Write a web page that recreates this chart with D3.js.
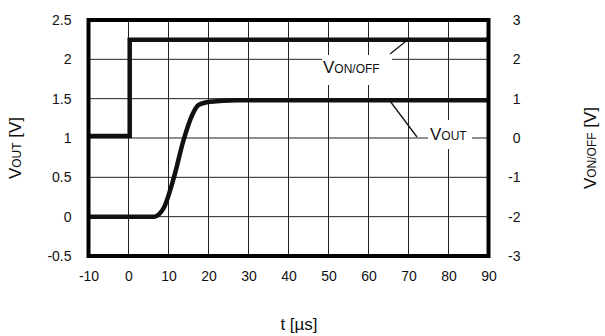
<!DOCTYPE html>
<html><head><meta charset="utf-8">
<script src="https://cdn.jsdelivr.net/npm/d3@7"></script>
<style>body{margin:0;background:#fff;}svg{display:block;font-family:"Liberation Sans",Arial,sans-serif;}</style>
</head><body>
<svg id="c" width="605" height="336"></svg>
<script>
const xTicks = [-10, 0, 10, 20, 30, 40, 50, 60, 70, 80, 90];
const yLeftTicks = [-0.5, 0, 0.5, 1, 1.5, 2, 2.5];
const yRightTicks = [-3, -2, -1, 0, 1, 2, 3];
const tOut = [-10, 6.5, 7.6, 8.8, 11.3, 13.8, 15.9, 17.5, 20.4, 27, 40, 60, 90];
const vOut = [0, 0, 0.03, 0.11, 0.49, 0.98, 1.29, 1.42, 1.46, 1.48, 1.48, 1.48, 1.48];
const tOnOff = [-10, 0.3, 0.3, 90];
const vOnOff = [0.05, 0.05, 2.5, 2.5];

const svg = d3.select('#c');
const x = d3.scaleLinear().domain([-10, 90]).range([88.5, 488.5]);
const yL = d3.scaleLinear().domain([-0.5, 2.5]).range([256, 20]);
const yR = d3.scaleLinear().domain([-3, 3]).range([256, 20]);
const fmt = d => String(d);

// grid
const g = svg.append('g');
g.selectAll('.vx').data(xTicks).join('line')
  .attr('x1', d => x(d)).attr('x2', d => x(d)).attr('y1', 20).attr('y2', 256)
  .attr('stroke', '#222').attr('stroke-width', 1);
g.selectAll('.hy').data(yLeftTicks).join('line')
  .attr('y1', d => yL(d)).attr('y2', d => yL(d)).attr('x1', 88.5).attr('x2', 488.5)
  .attr('stroke', '#222').attr('stroke-width', 1);

// axes (labels only)
const axL = d3.axisLeft(yL).tickValues(yLeftTicks).tickSize(0).tickPadding(17).tickFormat(fmt);
const axR = d3.axisRight(yR).tickValues(yRightTicks).tickSize(0).tickPadding(20).tickFormat(fmt);
const axB = d3.axisBottom(x).tickValues(xTicks).tickSize(0).tickPadding(15).tickFormat(fmt);
const gl = svg.append('g').attr('transform', `translate(${x(-10)},0)`).call(axL);
const gr = svg.append('g').attr('transform', `translate(${x(90)},0)`).call(axR);
const gb = svg.append('g').attr('transform', `translate(0,${yL(-0.5)})`).call(axB);
[gl, gr, gb].forEach(a => {
  a.select('.domain').remove();
  a.selectAll('text').attr('font-size', 14).attr('fill', '#111')
   .attr('font-family', '"Liberation Sans",Arial,sans-serif');
});
gr.selectAll('text').attr('text-anchor', 'end').attr('dx', '12');

// annotation label boxes (white, hide grid)
svg.append('rect').attr('x', 322).attr('y', 55).attr('width', 70).attr('height', 30).attr('fill', '#fff');
svg.append('rect').attr('x', 428).attr('y', 120).attr('width', 44).attr('height', 29).attr('fill', '#fff');

// data lines
const lineOut = d3.line().x(d => x(d[0])).y(d => yL(d[1])).curve(d3.curveMonotoneX);
const lineOn = d3.line().x(d => x(d[0])).y(d => yR(d[1]));
svg.append('path').datum(tOut.map((t, i) => [t, vOut[i]])).attr('d', lineOut)
  .attr('fill', 'none').attr('stroke', '#111').attr('stroke-width', 4.5).attr('stroke-linejoin', 'round');
svg.append('path').datum(tOnOff.map((t, i) => [t, vOnOff[i]])).attr('d', lineOn)
  .attr('fill', 'none').attr('stroke', '#111').attr('stroke-width', 4.5);

// frame
svg.append('rect').attr('x', 88.5).attr('y', 20).attr('width', 400).attr('height', 236)
  .attr('fill', 'none').attr('stroke', '#000').attr('stroke-width', 4);

// leader lines
svg.append('line').attr('x1', 390).attr('y1', 54).attr('x2', 410).attr('y2', 38).attr('stroke', '#111').attr('stroke-width', 1.3);
svg.append('line').attr('x1', 390).attr('y1', 101).attr('x2', 417).attr('y2', 137).attr('stroke', '#111').attr('stroke-width', 1.3);

function vlabel(sel, main, sub, rest, big, small) {
  sel.append('tspan').attr('font-size', big).text(main);
  sel.append('tspan').attr('font-size', small).text(sub);
  if (rest) sel.append('tspan').attr('font-size', big).text(rest);
  return sel;
}
vlabel(svg.append('text').attr('x', 323).attr('y', 73).attr('fill', '#111'), 'V', 'ON/OFF', null, 17, 12);
vlabel(svg.append('text').attr('x', 430).attr('y', 140).attr('fill', '#111'), 'V', 'OUT', null, 17, 12);

// axis titles
vlabel(svg.append('text').attr('transform', 'translate(21,148) rotate(-90)').attr('text-anchor', 'middle').attr('fill', '#111'), 'V', 'OUT', ' [V]', 17, 12);
vlabel(svg.append('text').attr('transform', 'translate(596,148) rotate(-90)').attr('text-anchor', 'middle').attr('fill', '#111'), 'V', 'ON/OFF', ' [V]', 17, 12);
svg.append('text').attr('x', 299).attr('y', 330).attr('text-anchor', 'middle').attr('font-size', 17).attr('fill', '#111').text('t [µs]');
</script>
</body></html>
